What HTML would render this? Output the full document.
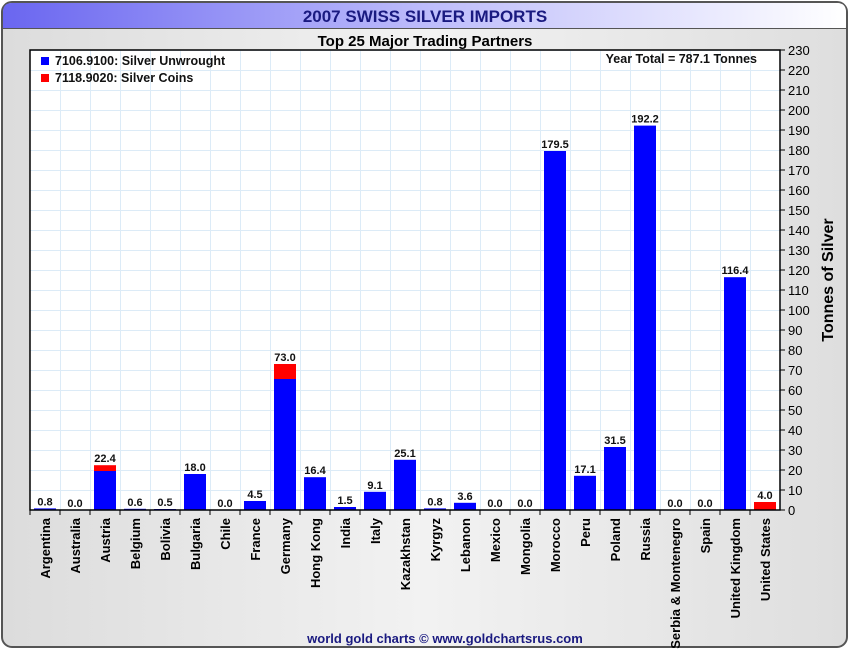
<!DOCTYPE html>
<html><head><meta charset="utf-8"><style>
body{margin:0;width:850px;height:650px;overflow:hidden;background:#fff;font-family:"Liberation Sans",sans-serif}
</style></head><body>
<svg width="850" height="650" xmlns="http://www.w3.org/2000/svg">
<defs>
<linearGradient id="tb" x1="0" x2="1"><stop offset="0" stop-color="#6a66f0"/><stop offset="0.5" stop-color="#bdbcfb"/><stop offset="1" stop-color="#ffffff"/></linearGradient>
<linearGradient id="bg" x1="0" x2="1"><stop offset="0" stop-color="#dcdcdc"/><stop offset="0.5" stop-color="#f2f2f2"/><stop offset="1" stop-color="#dedede"/></linearGradient>
</defs>
<rect x="2" y="2" width="845" height="645" rx="10" fill="url(#bg)" stroke="#555" stroke-width="2"/>
<path d="M3,28 L3,12 Q3,3 12,3 L837,3 Q846,3 846,12 L846,28 Z" fill="url(#tb)"/>
<line x1="3" y1="28.5" x2="846" y2="28.5" stroke="#555"/>
<text x="425" y="22" text-anchor="middle" font-size="17" font-weight="bold" fill="#1a1a80">2007 SWISS SILVER IMPORTS</text>
<text x="425" y="46" text-anchor="middle" font-size="15" font-weight="bold" fill="#000">Top 25 Major Trading Partners</text>
<rect x="30" y="50" width="750" height="460" fill="#fff"/>
<g id="grid"></g><g id="bars"></g><g id="axes"></g>
<rect x="30" y="50" width="750" height="460" fill="none" stroke="#000" stroke-width="1.5"/>
<rect x="41" y="57" width="8" height="8" fill="#0000ff"/>
<text x="55" y="65" font-size="12.5" font-weight="bold" fill="#111">7106.9100: Silver Unwrought</text>
<rect x="41" y="74" width="8" height="8" fill="#ff0000"/>
<text x="55" y="82" font-size="12.5" font-weight="bold" fill="#111">7118.9020: Silver Coins</text>
<text x="757" y="63" text-anchor="end" font-size="12.5" font-weight="bold" fill="#111">Year Total = 787.1 Tonnes</text>
<text transform="translate(833,280) rotate(-90)" text-anchor="middle" font-size="16" font-weight="bold" fill="#000">Tonnes of Silver</text>
<text x="445" y="643" text-anchor="middle" font-size="13" font-weight="bold" fill="#1a1a80">world gold charts © www.goldchartsrus.com</text>
</svg>
<script>
const categories=["Argentina","Australia","Austria","Belgium","Bolivia","Bulgaria","Chile","France","Germany","Hong Kong","India","Italy","Kazakhstan","Kyrgyz","Lebanon","Mexico","Mongolia","Morocco","Peru","Poland","Russia","Serbia & Montenegro","Spain","United Kingdom","United States"];
const unwrought=[0.8,0,19.5,0.6,0.5,18.0,0,4.5,65.5,16.4,1.5,9.1,25.1,0.8,3.6,0,0,179.5,17.1,31.5,192.2,0,0,116.4,0];
const coins=[0,0,2.9,0,0,0,0,0,7.5,0,0,0,0,0,0,0,0,0,0,0,0,0,0,0,4.0];
const yTicks=[0,10,20,30,40,50,60,70,80,90,100,110,120,130,140,150,160,170,180,190,200,210,220,230];
const NS="http://www.w3.org/2000/svg";
const X0=30,X1=780,Y0=510,Y1=50,YMAX=230;
const bw=(X1-X0)/categories.length;
const y=v=>Y0-(v/YMAX)*(Y0-Y1);
const xc=i=>X0+bw*(i+0.5);
function mk(tag,attrs,parent){const e=document.createElementNS(NS,tag);for(const k in attrs)e.setAttribute(k,attrs[k]);parent.appendChild(e);return e;}
const grid=document.getElementById('grid'),bars=document.getElementById('bars'),axes=document.getElementById('axes');
yTicks.forEach(t=>{
  const gl=mk('line',{x1:X0,x2:X1,y1:y(t)+0.5,y2:y(t)+0.5,stroke:'#dcebf7'},grid);
  
  
  const tk=mk('line',{x1:X1,x2:X1+5,y1:y(t),y2:y(t),stroke:'#000'},axes);
  
  
  const tl=mk('text',{x:X1+8,y:y(t)+5,'font-size':'13',fill:'#000'},axes);
  tl.textContent=t;
  
  
});
categories.forEach((c,i)=>{
  const gx=X0+bw*(i+1)+0.5;
  const vl=mk('line',{x1:gx,x2:gx,y1:Y1,y2:Y0,stroke:'#dcebf7'},grid);
  
  
  const tk=mk('line',{x1:X0+bw*i,x2:X0+bw*i,y1:Y0,y2:Y0+5,stroke:'#000'},axes);
  
  
  const u=unwrought[i],k=coins[i],tot=u+k;
  const b=mk('rect',{x:xc(i)-11,y:y(u),width:22,height:Y0-y(u),fill:'#0000ff'},bars);
  
  
  if(k>0){
    const r=mk('rect',{x:xc(i)-11,y:y(tot),width:22,height:y(u)-y(tot),fill:'#ff0000'},bars);
    
    
  }
  const vt=mk('text',{x:xc(i),y:y(tot)-3,'text-anchor':'middle','font-size':'11','font-weight':'bold',fill:'#111'},bars);
  vt.textContent=tot.toFixed(1);
  
  
  const lt=mk('text',{transform:`translate(${xc(i)+5},${Y0+8}) rotate(-90)`,'text-anchor':'end','font-size':'13','font-weight':'bold',fill:'#000'},axes);
  lt.textContent=c;
  
  
});
</script>
</body></html>
